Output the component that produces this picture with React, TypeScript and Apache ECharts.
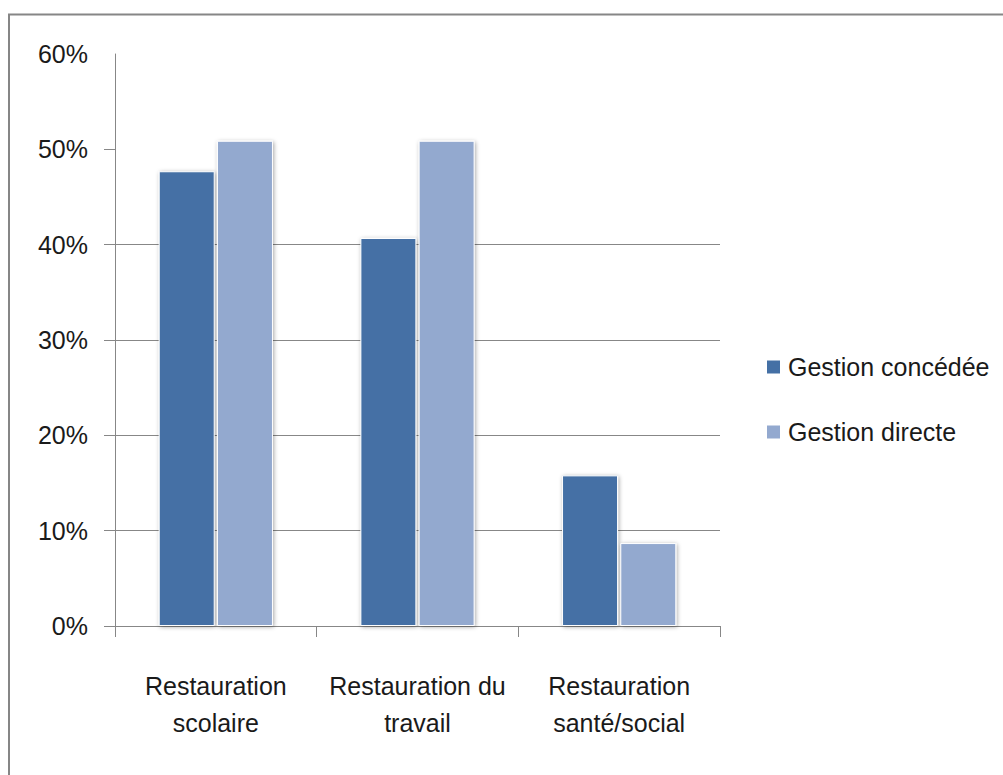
import React, { useEffect, useRef } from "react";
import * as echarts from "echarts";

const categories = [
  "Restauration\nscolaire",
  "Restauration du\ntravail",
  "Restauration\nsanté/social",
];
const seriesNames = ["Gestion concédée", "Gestion directe"];
const concedee = [47.7, 40.7, 15.8];
const directe = [50.9, 50.9, 8.7];
const yTicks = [0, 10, 20, 30, 40, 50];

const FONT = "'Liberation Sans', Arial, sans-serif";
const FONT_SIZE = 25;
const TEXT = "#1a1a1a";
const AXIS = "#878787";

export default function App() {
  const ref = useRef<HTMLDivElement>(null);

  useEffect(() => {
    if (!ref.current) return;
    const chart = echarts.init(ref.current, undefined, { renderer: "svg" });
    const barStyle = (color: string) => ({
      color,
      borderColor: "#ffffff",
      borderWidth: 1,
      shadowBlur: 4,
      shadowColor: "rgba(0,0,0,0.35)",
      shadowOffsetX: 1,
      shadowOffsetY: 1,
    });
    chart.setOption({
      animation: false,
      backgroundColor: "#ffffff",
      textStyle: { fontFamily: FONT },
      grid: { left: 115, right: 283, top: 54, bottom: 149, containLabel: false },
      graphic: [
        {
          type: "rect",
          shape: { x: 9, y: 14.5, width: 1100, height: 1000 },
          style: { fill: "none", stroke: "#868686", lineWidth: 2 },
          silent: true,
        },
      ],
      legend: {
        orient: "vertical",
        left: 765,
        top: 352,
        padding: 0,
        itemWidth: 15,
        itemHeight: 15,
        itemGap: 35,
        icon: "rect",
        data: seriesNames,
        textStyle: {
          fontSize: FONT_SIZE,
          lineHeight: 30,
          color: TEXT,
          fontFamily: FONT,
          padding: [0, 0, 0, 2],
        },
      },
      xAxis: {
        type: "category",
        data: categories,
        axisLine: { show: true, lineStyle: { color: AXIS, width: 1 } },
        axisTick: { show: true, length: 11, lineStyle: { color: AXIS } },
        axisLabel: {
          interval: 0,
          fontSize: FONT_SIZE,
          lineHeight: 37,
          margin: 41,
          color: TEXT,
          fontFamily: FONT,
          align: "center",
        },
        splitLine: { show: false },
      },
      yAxis: {
        type: "value",
        min: 0,
        max: 60,
        interval: 10,
        axisLine: { show: true, lineStyle: { color: AXIS, width: 1 } },
        axisTick: { show: true, length: 11, customValues: yTicks, lineStyle: { color: AXIS } },
        axisLabel: {
          formatter: "{value}%",
          fontSize: FONT_SIZE,
          margin: 27,
          color: TEXT,
          fontFamily: FONT,
        },
        splitLine: { show: true, showMaxLine: false, lineStyle: { color: AXIS, width: 1 } },
      },
      series: [
        {
          name: seriesNames[0],
          type: "bar",
          data: concedee,
          barWidth: 56,
          barGap: "4%",
          itemStyle: barStyle("#4470A5"),
        },
        {
          name: seriesNames[1],
          type: "bar",
          data: directe,
          barWidth: 56,
          barGap: "4%",
          itemStyle: barStyle("#93A9CF"),
        },
      ],
    });
    return () => chart.dispose();
  }, []);

  return (
    <div
      ref={ref}
      style={{ position: "absolute", left: 0, top: 0, width: 1003, height: 775 }}
    />
  );
}
